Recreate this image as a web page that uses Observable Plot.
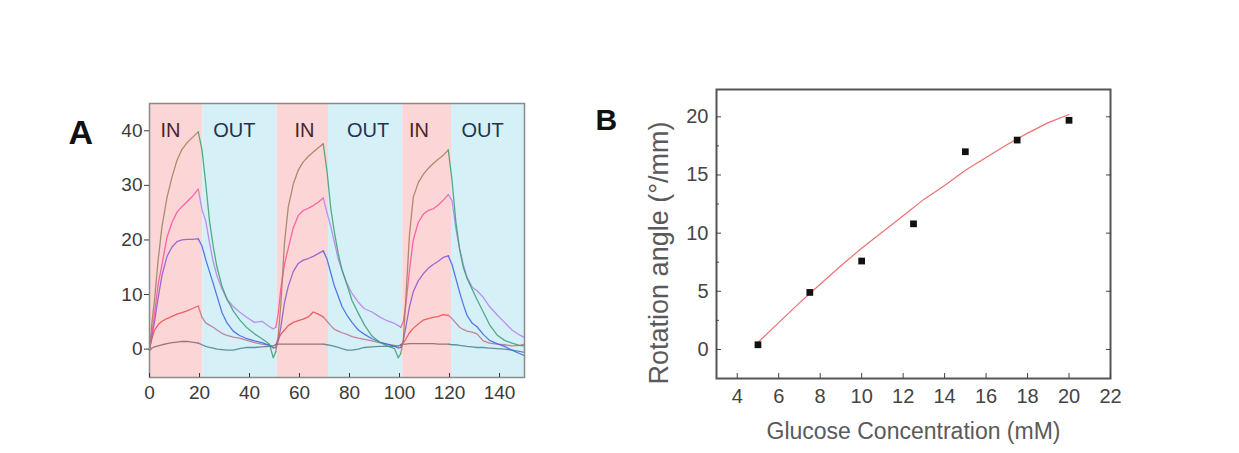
<!DOCTYPE html>
<html>
<head>
<meta charset="utf-8">
<script src="https://cdn.jsdelivr.net/npm/d3@7"></script>
<script src="https://cdn.jsdelivr.net/npm/@observablehq/plot@0.6"></script>
<style>
  html, body { margin: 0; padding: 0; background: #fff; }
  #wrap { position: relative; width: 1239px; height: 453px; overflow: hidden; background: #fff; }
  #panelA { position: absolute; left: 0; top: 0; }
  #panelB { position: absolute; left: 560px; top: 0; }
</style>
</head>
<body>
<div id="wrap"><div id="panelA"></div><div id="panelB"></div></div>
<script>
// ---------- Panel A data ----------
const T = [
  0, 1, 2, 3.5, 5, 7, 9, 11, 13, 15, 17, 19.5, 21, 22.5, 24, 25.5, 27, 29, 31, 33.5, 36, 39, 42, 45, 48, 49.5,
  50.5, 51.5, 52.5, 54, 55.5, 57.5, 59.5, 61.5, 63.5, 65.5, 67.5, 69.5, 71, 72.5, 74, 75.5, 77, 79, 81, 83.5, 86, 89, 92, 95, 98, 99.5,
  100.5, 101.5, 102.5, 104, 105.5, 107.5, 109.5, 111.5, 113.5, 115.5, 117.5, 119.5, 121, 122.5, 124, 125.5, 127, 129, 131, 133.5, 136, 139, 142, 145, 148, 150
];
const S1 = [
  -0.3, 0.2, 0.4, 0.6, 0.8, 1.0, 1.2, 1.3, 1.4, 1.4, 1.3, 1.1, 0.8, 0.5, 0.3, 0.2, 0.0, -0.1, -0.2, -0.2, 0.1, 0.3, 0.3, 0.4, 0.5, 0.6,
  0.8, 0.9, 0.9, 0.9, 0.9, 0.9, 0.9, 0.9, 0.9, 0.9, 0.9, 0.9, 0.8, 0.7, 0.5, 0.3, 0.1, -0.2, -0.2, 0.0, 0.3, 0.4, 0.5, 0.5, 0.5, 0.6,
  0.8, 0.9, 0.9, 1.0, 1.0, 1.0, 1.0, 1.0, 1.0, 0.9, 0.9, 0.9, 0.8, 0.8, 0.7, 0.6, 0.5, 0.4, 0.3, 0.3, 0.2, 0.1, 0.0, -0.2, -0.4, -0.6
];
const S2 = [
  0, 2, 3.5, 4.5, 5.1, 5.6, 6.0, 6.4, 6.7, 7.0, 7.4, 7.9, 5.8, 4.8, 4.4, 4.0, 3.5, 2.9, 2.5, 2.2, 2.0, 1.6, 1.2, 0.9, 0.7, 0.6,
  0.8, 1.8, 2.7, 3.5, 4.3, 4.9, 5.2, 5.5, 5.9, 6.8, 6.4, 5.9, 5.1, 4.3, 3.6, 3.3, 3.0, 2.7, 2.3, 2.0, 1.8, 1.5, 1.2, 0.9, 0.7, 0.6,
  0.7, 1.2, 1.8, 3.0, 3.8, 4.6, 5.3, 5.6, 5.8, 6.0, 6.3, 6.2, 5.6, 4.8, 4.0, 3.6, 3.3, 3.1, 2.8, 1.5, 1.1, 0.9, 0.8, 0.6, 0.7, 0.9
];
const S3 = [
  0, 2.5, 5, 9.5, 13.5, 17, 18.7, 19.7, 20, 20.1, 20.1, 20.2, 18.9, 16.4, 14.2, 12, 9.7, 6.7, 4.8, 3.3, 2.5, 1.9, 1.5, 1.2, 0.7, 0.2,
  0.3, 1.5, 4, 8.5, 11.5, 14.2, 15.7, 16.3, 16.6, 17, 17.5, 18, 16.5, 14, 11.5, 9.7, 7.8, 6.2, 4.9, 3.5, 2.7, 1.9, 1.3, 0.9, 0.5, 0.2,
  0.3, 1.5, 4, 7.8, 10.5, 12.5, 13.8, 14.8, 15.5, 16.1, 16.8, 17.1, 15.5, 13, 10.5, 8.2, 6.2, 4.8, 4.1, 2.7, 1.6, 1.0, 0.5, -0.2, -0.8, -1.2
];
const S4 = [
  0, 3, 6.5, 12, 15.5, 20.5, 23.2, 25.1, 26.1, 27, 27.9, 29.3, 25.5, 23.5, 19.5, 16, 13.4, 11, 9.1, 7.8, 6.8, 5.8, 4.9, 5.1, 4.1, 3.7,
  4, 6.5, 11, 15.5, 18.5, 22.2, 24.5, 25.4, 25.8, 26.3, 26.9, 27.7, 25, 22.5, 19.5, 16.5, 14.5, 12, 10.2, 8.6, 7.4, 6.8, 5.9, 5.2, 4.7, 4.3,
  4, 5, 8, 14.5, 20, 23.2, 24.7, 25.4, 25.7, 26.4, 27.3, 28.3, 27.2, 22.2, 18.5, 15.5, 13.2, 11.4, 10.7, 9.5, 7.8, 6.3, 4.9, 3.5, 2.6, 2.1
];
const S5 = [
  0, 5, 9, 16.5, 22.5, 27.8, 31.5, 34.6, 36.6, 37.8, 38.7, 39.8, 36.5, 30.3, 23.5, 18.8, 15.0, 11.5, 9.2, 7.0, 5.4, 3.9, 2.8, 1.9, 0.9, -1.6,
  -0.5, 2.5, 8, 19.5, 26, 30.2, 32.8, 34.3, 35.3, 36.1, 36.9, 37.6, 32.6, 25.8, 21.3, 17.5, 14.5, 11.8, 8.9, 6.6, 4.4, 2.4, 1.3, 0.6, 0.1, -1.6,
  -0.8, 1.5, 9, 21, 27.8, 30.5, 32, 33.1, 34, 34.8, 35.5, 36.5, 31, 23.5, 18.4, 15.0, 13, 11, 9.1, 6.8, 4.5, 2.6, 1.6, 1.1, 0.7, 0.6
];
const seriesNames = ["S1", "S2", "S3", "S4", "S5"];
const riseColors = ["#8c6464", "#f04848", "#8a55d0", "#ff4f9a", "#9a7f5c"];
const fallColors = ["#4f7f8f", "#c07088", "#3c64e8", "#b77cf0", "#3a9f6e"];

const phaseName = ["IN", "OUT", "IN", "OUT", "IN", "OUT"];
const phaseStart = [0, 21.3, 51.1, 71.6, 101.3, 120.8];
const phaseEnd = [21.3, 51.1, 71.6, 101.3, 120.8, 150];
const phaseFill = {IN: "#fcd6d6", OUT: "#d6f0f8"};
const phaseLabelX = [8.4, 33.9, 62, 87.4, 107.8, 133.2];
const phaseLabelColor = {IN: "#4a2424", OUT: "#22324f"};

const xTicksA = [0, 20, 40, 60, 80, 100, 120, 140];
const yTicksA = [0, 10, 20, 30, 40];

// ---------- Panel B data ----------
const glucose = [5, 7.5, 10, 12.5, 15, 17.5, 20];
const rotation = [0.4, 4.9, 7.6, 10.8, 17.0, 18.0, 19.7];
const fitX = [5, 6, 7, 8, 9, 10, 11, 12, 13, 14, 15, 16, 17, 18, 19, 20];
const fitY = [0.6, 2.3, 4.0, 5.6, 7.2, 8.7, 10.1, 11.5, 12.9, 14.1, 15.4, 16.5, 17.6, 18.6, 19.5, 20.2];
const xTicksB = [4, 6, 8, 10, 12, 14, 16, 18, 20, 22];
const yTicksB = [0, 5, 10, 15, 20];
const yMinorB = [2.5, 7.5, 12.5, 17.5];

// ---------- build panel A rows ----------
const series = [S1, S2, S3, S4, S5];
const rows = [];
const perCycle = 26, peakK = 11;
series.forEach((vals, si) => {
  for (let c = 0; c < 3; c++) {
    for (let k = 0; k <= peakK; k++) {
      const i = c * perCycle + k;
      rows.push({t: T[i], v: vals[i], seg: seriesNames[si] + "-r" + c, color: riseColors[si]});
    }
    const end = Math.min(c * perCycle + perCycle, T.length - 1);
    for (let i = c * perCycle + peakK; i <= end; i++) {
      rows.push({t: T[i], v: vals[i], seg: seriesNames[si] + "-f" + c, color: fallColors[si]});
    }
  }
});
const phases = phaseName.map((p, i) => ({p, x1: phaseStart[i], x2: phaseEnd[i]}));
const phaseLabels = phaseName.map((p, i) => ({p, x: phaseLabelX[i]}));

const font = "Liberation Sans, Arial, Helvetica, sans-serif";

const plotA = Plot.plot({
  width: 540, height: 453,
  marginLeft: 149, marginRight: 16, marginTop: 103, marginBottom: 76,
  style: {fontFamily: font, background: "transparent"},
  x: {domain: [0, 150]},
  y: {domain: [-5.2, 45]},
  color: {type: "identity"},
  marks: [
    Plot.rect(phases, {x1: "x1", x2: "x2", fill: d => phaseFill[d.p]}),
    Plot.line(rows, {x: "t", y: "v", z: "seg", stroke: "color", strokeWidth: 1.3, strokeOpacity: 0.85}),
    Plot.text(phaseLabels, {x: "x", frameAnchor: "top", dy: 19, text: "p", fontSize: 20, fill: d => phaseLabelColor[d.p], textAnchor: "middle"}),
    Plot.frame({stroke: "#8a8a8a", strokeWidth: 1.5}),
    Plot.axisY({ticks: yTicksA, tickSize: 5, tickPadding: 2, fontSize: 19, color: "#3a3a3a", label: null}),
    Plot.axisX({ticks: xTicksA, tickSize: -4, tickPadding: 12, fontSize: 19, color: "#3a3a3a", label: null}),
    Plot.text(["A"], {frameAnchor: "top-left", dx: -81, dy: 16, text: d => d, fontSize: 34, fontWeight: "bold", fill: "#111", textAnchor: "start", lineAnchor: "top"})
  ]
});
document.getElementById("panelA").appendChild(plotA);

const plotB = Plot.plot({
  width: 679, height: 453,
  marginLeft: 156, marginRight: 129, marginTop: 89, marginBottom: 75,
  style: {fontFamily: font, background: "transparent"},
  x: {domain: [3, 22]},
  y: {domain: [-2.5, 22.35]},
  marks: [
    Plot.line(fitX.map((x, i) => ({x, y: fitY[i]})), {x: "x", y: "y", stroke: "#f07070", strokeWidth: 1.2}),
    Plot.dot(glucose.map((x, i) => ({x, y: rotation[i]})), {x: "x", y: "y", symbol: "square", r: 3.8, fill: "#111", stroke: "none"}),
    Plot.frame({stroke: "#555", strokeWidth: 2}),
    Plot.axisY({ticks: yTicksB, tickSize: -5, tickPadding: 13, fontSize: 20, color: "#444", label: null}),
    Plot.axisY({ticks: yMinorB, tickSize: -3, tickFormat: () => "", color: "#444", label: null}),
    Plot.axisY({anchor: "right", ticks: yTicksB, tickSize: -5, tickFormat: () => "", color: "#444", label: null}),
    Plot.axisX({ticks: xTicksB, tickSize: -5, tickPadding: 15, fontSize: 20, color: "#444", label: null}),
    Plot.text(["Rotation angle (°/mm)"], {frameAnchor: "left", dx: -57, dy: 19, rotate: -90, textAnchor: "middle", text: d => d, fontSize: 27, fill: "#5a5a5a"}),
    Plot.text(["Glucose Concentration (mM)"], {frameAnchor: "bottom", dy: 60, textAnchor: "middle", text: d => d, fontSize: 23, fill: "#5a5a5a"}),
    Plot.text(["B"], {frameAnchor: "top-left", dx: -121, dy: 19, text: d => d, fontSize: 30, fontWeight: "bold", fill: "#111", textAnchor: "start", lineAnchor: "top"})
  ]
});
document.getElementById("panelB").appendChild(plotB);
</script>
</body>
</html>
